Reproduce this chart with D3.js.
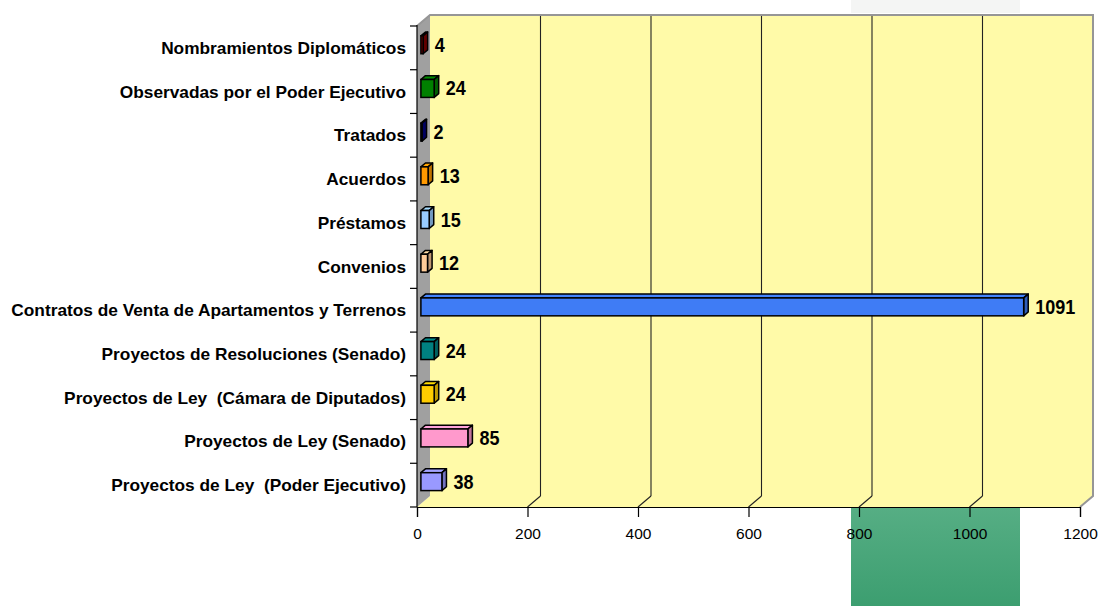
<!DOCTYPE html>
<html>
<head>
<meta charset="utf-8">
<script src="https://cdn.jsdelivr.net/npm/d3@7"></script>
<style>
  body { margin: 0; background: #fff; }
  svg { display: block; font-family: "Liberation Sans", Arial, sans-serif; }
</style>
</head>
<body>
<svg id="chart" width="1099" height="606"></svg>
<script>
// chart data, top to bottom as drawn
const categories = [
  "Nombramientos Diplomáticos",
  "Observadas por el Poder Ejecutivo",
  "Tratados",
  "Acuerdos",
  "Préstamos",
  "Convenios",
  "Contratos de Venta de Apartamentos y Terrenos",
  "Proyectos de Resoluciones (Senado)",
  "Proyectos de Ley  (Cámara de Diputados)",
  "Proyectos de Ley (Senado)",
  "Proyectos de Ley  (Poder Ejecutivo)"
];
const values = [4, 24, 2, 13, 15, 12, 1091, 24, 24, 85, 38];
const barColors = ["#800000", "#008000", "#000080", "#ff9900", "#99ccff", "#ffcc99",
                   "#3f7cf5", "#008080", "#ffcc00", "#ff99cc", "#9999ff"];
const xTicks = [0, 200, 400, 600, 800, 1000, 1200];

const svg = d3.select("#chart");

// front plane origin and depth vector of the 3D box
const x0 = 417, yFloor = 507, yTop = 26;
const depth = [13, -11];

const x = d3.scaleLinear().domain([0, 1200]).range([x0, 1080]);
const y = d3.scaleBand().domain(categories).range([yTop, yFloor]).paddingInner(0.59).paddingOuter(0.3);

const pts = p => p.map(d => d.join(",")).join(" ");

// strip overlays seen in the picture
const grad = svg.append("defs").append("linearGradient")
  .attr("id", "greenStrip").attr("x1", 0).attr("x2", 0).attr("y1", 0).attr("y2", 1);
grad.append("stop").attr("offset", 0).attr("stop-color", "#56ae84");
grad.append("stop").attr("offset", 1).attr("stop-color", "#3c9e70");
svg.append("rect").attr("x", 851).attr("y", 507).attr("width", 169).attr("height", 99)
  .attr("fill", "url(#greenStrip)");
svg.append("rect").attr("x", 851).attr("y", 0).attr("width", 169).attr("height", 13)
  .attr("fill", "#f4f5f4");

// back wall
const bx = x0 + depth[0], by = yFloor + depth[1];
svg.append("rect")
  .attr("x", bx).attr("y", yTop + depth[1])
  .attr("width", x(1200) - x0).attr("height", yFloor - yTop)
  .attr("fill", "#fffaa8");

// floor
svg.append("polygon")
  .attr("points", pts([[x0, yFloor], [bx, by], [x(1200) + depth[0], by], [x(1200), yFloor]]))
  .attr("fill", "#fffaa8");

// side wall
svg.append("polygon")
  .attr("points", pts([[x0, yTop], [bx, yTop + depth[1]], [bx, by], [x0, yFloor]]))
  .attr("fill", "#a0a0a0");

// gridlines on back wall and floor
const grid = svg.append("g");
xTicks.slice(1, -1).forEach(t => {
  grid.append("line")
    .attr("x1", x(t) + depth[0]).attr("x2", x(t) + depth[0])
    .attr("y1", yTop + depth[1]).attr("y2", by)
    .attr("stroke", "#222").attr("stroke-width", 1.1);
  grid.append("line")
    .attr("x1", x(t) + depth[0]).attr("y1", by)
    .attr("x2", x(t)).attr("y2", yFloor)
    .attr("stroke", "#222").attr("stroke-width", 1.1);
});

// wall outline (grey)
svg.append("path")
  .attr("d", `M${x0},${yTop}L${bx},${yTop + depth[1]}H${x(1200) + depth[0]}V${by}L${x(1200)},${yFloor}`)
  .attr("fill", "none").attr("stroke", "#969696").attr("stroke-width", 2);

// bars
const f1 = 0.3, f2 = 0.65;
const shade = (c, k) => d3.color(c).darker(k).formatHex();
const bars = svg.append("g").selectAll("g").data(categories).join("g");
bars.each(function (c, i) {
  const g = d3.select(this);
  const v = values[i];
  const xa = x0 + depth[0] * f1, xb = x(v) + depth[0] * f1;
  const ya = y(c) + depth[1] * f1, yb = ya + y.bandwidth();
  const dx = depth[0] * (f2 - f1), dy = depth[1] * (f2 - f1);
  g.append("polygon").attr("points", pts([[xa, ya], [xa + dx, ya + dy], [xb + dx, ya + dy], [xb, ya]]))
    .attr("fill", d3.color(barColors[i]).brighter(0.2).formatHex()).attr("stroke", "#000").attr("stroke-width", 1.5).attr("stroke-linejoin", "round");
  g.append("polygon").attr("points", pts([[xb, ya], [xb + dx, ya + dy], [xb + dx, yb + dy], [xb, yb]]))
    .attr("fill", shade(barColors[i], 0.8)).attr("stroke", "#000").attr("stroke-width", 1.5).attr("stroke-linejoin", "round");
  g.append("rect").attr("x", xa).attr("y", ya).attr("width", xb - xa).attr("height", yb - ya)
    .attr("fill", barColors[i]).attr("stroke", "#000").attr("stroke-width", 1.5);
  g.append("text")
    .attr("transform", `translate(${xb + dx + 7},${(ya + yb) / 2 + 7}) scale(0.9,1)`)
    .attr("font-size", 20).attr("font-weight", "bold").attr("fill", "#000")
    .text(v);
});

// vertical axis with category labels
svg.append("line").attr("x1", x0).attr("x2", x0).attr("y1", yTop - 1).attr("y2", yFloor)
  .attr("stroke", "#000").attr("stroke-width", 1.2);
d3.range(categories.length + 1).forEach(k => {
  const yy = yTop + (yFloor - yTop) * k / categories.length;
  svg.append("line").attr("x1", x0 - 7).attr("x2", x0).attr("y1", yy).attr("y2", yy)
    .attr("stroke", "#000").attr("stroke-width", 1.2);
});
svg.append("g").selectAll("text").data(categories).join("text")
  .attr("x", 406).attr("y", d => y(d) + y.bandwidth() / 2 + 6)
  .attr("text-anchor", "end").attr("font-size", 17.3).attr("font-weight", "bold")
  .style("white-space", "pre").attr("fill", "#000")
  .text(d => d);

// horizontal axis
const xAxis = svg.append("g").attr("transform", `translate(0,${yFloor})`)
  .call(d3.axisBottom(x).tickValues(xTicks).tickSize(10).tickPadding(11).tickFormat(d3.format("d")));
xAxis.select(".domain").attr("stroke", "#000").attr("stroke-width", 1.2);
xAxis.selectAll(".tick line").attr("stroke", "#000").attr("stroke-width", 1.2);
xAxis.selectAll(".tick text").attr("font-size", 15.5).attr("fill", "#000")
  .attr("font-family", "'Liberation Sans', Arial, sans-serif");
</script>
</body>
</html>
